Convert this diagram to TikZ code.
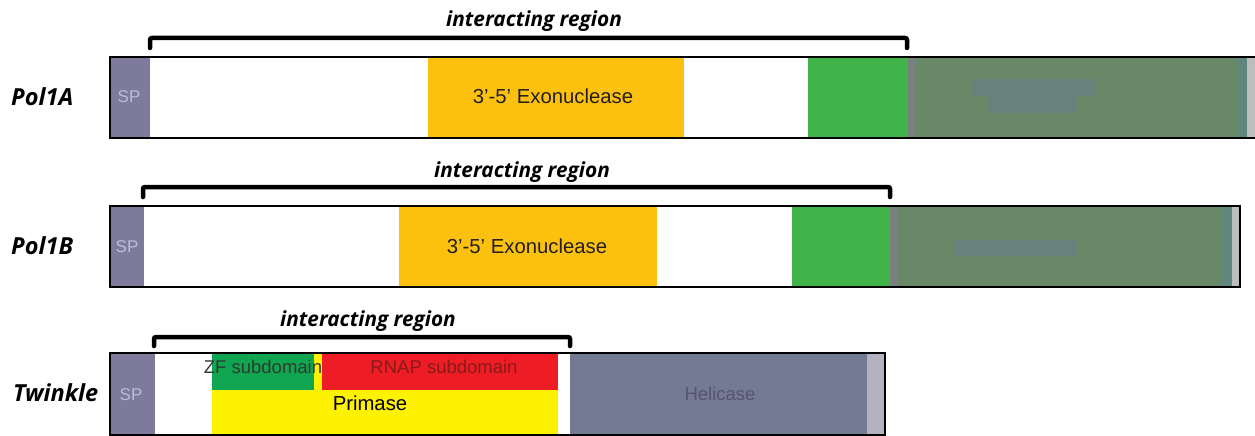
\documentclass[tikz,border=0pt]{standalone}
\usepackage{fontspec}
\setmainfont{Liberation Sans}
\newfontfamily\protfont{Open Sans}
\definecolor{spcol}{HTML}{7D7A9B}
\definecolor{sptext}{HTML}{BEBAD8}
\definecolor{exocol}{HTML}{FCC10F}
\definecolor{polgreen}{HTML}{40B448}
\definecolor{poldark}{HTML}{688868}
\definecolor{poledge}{HTML}{5F877E}
\definecolor{polleft}{HTML}{788080}
\definecolor{patch}{HTML}{67827A}
\definecolor{endgray}{HTML}{BDBDBD}
\definecolor{zfcol}{HTML}{10A550}
\definecolor{rnapcol}{HTML}{EE1C24}
\definecolor{primcol}{HTML}{FFF200}
\definecolor{helcol}{HTML}{737A94}
\definecolor{helend}{HTML}{B4B2C0}
\definecolor{heltext}{HTML}{575470}
\definecolor{rnaptext}{HTML}{8A1A1A}
\definecolor{zftext}{HTML}{2E3A30}
\definecolor{domtext}{HTML}{231F20}
\newcommand\domain[6]{%
  \node[dom,#6,minimum width={(#4-#2)*1pt},minimum height={(#5-#3)*1pt},anchor=north west] (#1) at (#2,#3) {};}
\tikzset{
  dom/.style={draw=none,inner sep=0pt,outer sep=0pt,rectangle},
  barbox/.style={draw=black,line width=1.4pt,fill=none},
  bracket/.style={line width=4.5pt,line cap=round,rounded corners=2pt},
  regionlabel/.style={font=\protfont\bfseries\itshape\fontsize{20.8}{24}\selectfont,inner sep=0pt},
  protlabel/.style={font=\protfont\bfseries\itshape\fontsize{23.5}{27}\selectfont,inner sep=0pt,anchor=west},
  sptxt/.style={text=sptext,font=\fontsize{17}{20}\selectfont,inner sep=0pt},
  domtxt/.style={font=\fontsize{18.5}{22}\selectfont,inner sep=0pt},
  bigtxt/.style={font=\fontsize{20.3}{24}\selectfont,inner sep=0pt}
}
\begin{document}
\begin{tikzpicture}[x=1pt,y=-1pt]
\useasboundingbox[fill=white] (0,0) rectangle (1255,436);

% ---------------- Pol1A ----------------
\domain{aSP}{110}{57}{150}{138}{fill=spcol}
\domain{aExo}{428}{57}{684}{138}{fill=exocol}
\domain{aGreen}{808}{57}{908}{138}{fill=polgreen}
\domain{aDark}{908}{57}{1238}{138}{fill=poldark}
\domain{aDarkL}{908}{57}{915}{138}{fill=polleft}
\domain{aEdge}{1238}{57}{1247}{138}{fill=poledge}
\domain{aEnd}{1247}{57}{1258}{138}{fill=endgray}
\domain{aPatch1}{972}{79}{1095}{96}{fill=patch}
\domain{aPatch2}{988}{96}{1077}{113}{fill=patch}
\domain{aBar}{110}{57}{1262}{138}{barbox}
\node[sptxt] (aSPt) at (129,97) {SP};
\node[bigtxt,text=domtext] (aExot) at (553,96) {3’-5’ Exonuclease};
\node[protlabel] (aName) at (11,97) {Pol1A};
\coordinate (aL) at (150,48);
\coordinate (aR) at (907,48);
\draw[bracket] (aL) -- ++(0,-10) -| (aR);
\node[regionlabel] (aReg) at (534,21) {interacting region};

% ---------------- Pol1B ----------------
\domain{bSP}{110}{206}{144}{287}{fill=spcol}
\domain{bExo}{399}{206}{657}{287}{fill=exocol}
\domain{bGreen}{792}{206}{890}{287}{fill=polgreen}
\domain{bDark}{890}{206}{1222}{287}{fill=poldark}
\domain{bDarkL}{890}{206}{898}{287}{fill=polleft}
\domain{bEdge}{1222}{206}{1232}{287}{fill=poledge}
\domain{bEnd}{1232}{206}{1240}{287}{fill=endgray}
\domain{bPatch}{953}{240}{1077}{256}{fill=patch}
\domain{bBar}{110}{206}{1240}{287}{barbox}
\node[sptxt] (bSPt) at (127,247) {SP};
\node[bigtxt,text=domtext] (bExot) at (527,246) {3’-5’ Exonuclease};
\node[protlabel] (bName) at (11,246) {Pol1B};
\coordinate (bL) at (143,197);
\coordinate (bR) at (890,197);
\draw[bracket] (bL) -- ++(0,-10) -| (bR);
\node[regionlabel] (bReg) at (522,172) {interacting region};

% ---------------- Twinkle ----------------
\domain{tSP}{110}{353}{155}{436}{fill=spcol}
\domain{tPrim}{212}{353}{558}{436}{fill=primcol}
\domain{tZF}{212}{354}{314}{390}{fill=zfcol}
\domain{tRNAP}{322}{354}{558}{390}{fill=rnapcol}
\domain{tHel}{570}{353}{867}{436}{fill=helcol}
\domain{tEnd}{867}{353}{885}{436}{fill=helend}
\domain{tBar}{110}{353}{885}{435}{barbox}
\node[sptxt] (tSPt) at (131,395) {SP};
\node[domtxt,text=zftext] (tZFt) at (263,367) {ZF subdomain};
\node[domtxt,text=rnaptext] (tRNAPt) at (444,367) {RNAP subdomain};
\node[bigtxt,text=black] (tPrimt) at (370,403) {Primase};
\node[domtxt,text=heltext] (tHelt) at (720,394) {Helicase};
\node[protlabel] (tName) at (13,393) {Twinkle};
\coordinate (tL) at (154,346);
\coordinate (tR) at (570,346);
\draw[bracket] (tL) -- ++(0,-9) -| (tR);
\node[regionlabel] (tReg) at (368,321) {interacting region};
\end{tikzpicture}
\end{document}
